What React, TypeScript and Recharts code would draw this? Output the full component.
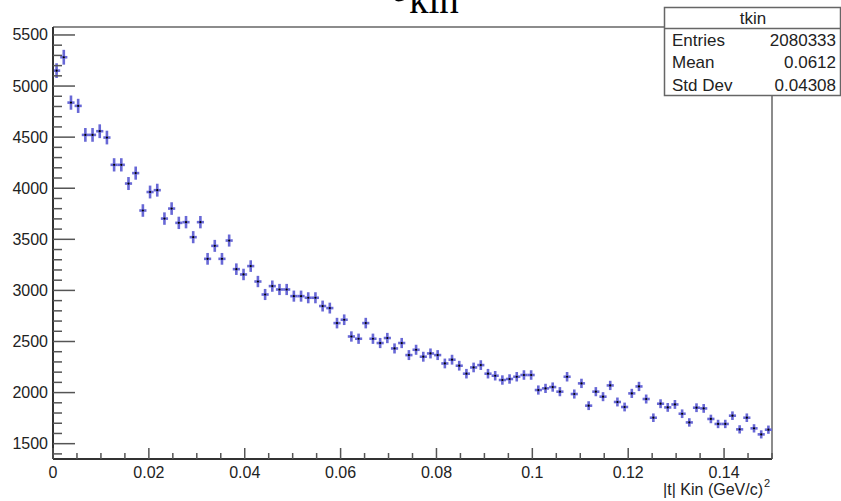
import { ScatterChart, Scatter, XAxis, YAxis, ErrorBar, ReferenceLine } from 'recharts';

// histogram tkin: 100 bins of width 0.0015 from 0 to 0.15
const binLow = 0;
const binWidth = 0.0015;
const counts = [
  5151, 5282, 4838, 4806, 4522, 4522, 4558, 4496, 4229, 4229,
  4046, 4148, 3782, 3963, 3981, 3703, 3801, 3661, 3668, 3521,
  3668, 3309, 3436, 3309, 3488, 3208, 3156, 3238, 3087, 2960,
  3042, 3009, 3009, 2944, 2944, 2928, 2928, 2847, 2827, 2680,
  2713, 2549, 2527, 2680, 2527, 2485, 2534, 2432, 2485, 2367,
  2419, 2351, 2383, 2367, 2285, 2322, 2263, 2185, 2246, 2269,
  2185, 2165, 2123, 2133, 2155, 2172, 2172, 2025, 2041, 2054,
  2009, 2155, 1986, 2090, 1872, 2009, 1960, 2070, 1908, 1859,
  1992, 2060, 1937, 1754, 1891, 1855, 1884, 1793, 1708, 1852,
  1845, 1742, 1693, 1693, 1774, 1640, 1754, 1650, 1591, 1637,
];

const xMajorTicks = [0, 0.02, 0.04, 0.06, 0.08, 0.1, 0.12, 0.14];
const xMajorLabels = ['0', '0.02', '0.04', '0.06', '0.08', '0.1', '0.12', '0.14'];
const yMajorTicks = [1500, 2000, 2500, 3000, 3500, 4000, 4500, 5000, 5500];

const statsTitle = 'tkin';
const statsRows = [
  ['Entries', '2080333'],
  ['Mean', '0.0612'],
  ['Std Dev', '0.04308'],
];

const X_DOMAIN = [0, 0.15];
const Y_DOMAIN = [1350, 5578];

// minor ticks: every 0.005 on x, every 100 on y
const xTicks: number[] = [];
for (let k = 0; k <= 30; k++) xTicks.push(Math.round(k * 5) / 1000);
const yTicks: number[] = [];
for (let v = 1400; v <= 5500; v += 100) yTicks.push(v);

// poisson errors (sqrt N), horizontal bars = half bin width
const data = counts.map((n, i) => ({
  x: binLow + (i + 0.5) * binWidth,
  y: n,
  ey: Math.sqrt(n),
  ex: binWidth / 2,
}));

const FONT = '"Liberation Sans", Arial, Helvetica, sans-serif';
const TICK_COLOR = '#555';
const BAR_COLOR = '#6868d6';

const YTick = (props: any) => {
  const { x, y, payload } = props;
  const v = payload.value;
  const major = yMajorTicks.includes(v);
  const ax = x + 5;
  return (
    <g>
      <line x1={ax} x2={ax + (major ? 22 : 9)} y1={y} y2={y} stroke={TICK_COLOR} strokeWidth={1.5} />
      {major && (
        <text x={x} y={y + 5.5} textAnchor="end" fontSize={16} fill="#222" fontFamily={FONT}>
          {v}
        </text>
      )}
    </g>
  );
};

const XTick = (props: any) => {
  const { x, y, payload } = props;
  const v = payload.value;
  const idx = xMajorTicks.findIndex((m) => Math.abs(m - v) < 1e-9);
  const ay = y - 5;
  return (
    <g>
      <line x1={x} x2={x} y1={ay} y2={ay - (idx >= 0 ? 11 : 6)} stroke={TICK_COLOR} strokeWidth={1.5} />
      {idx >= 0 && (
        <text x={x} y={ay + 18.5} textAnchor="middle" fontSize={16} fill="#222" fontFamily={FONT}>
          {xMajorLabels[idx]}
        </text>
      )}
    </g>
  );
};

const Dot = (p: any) => <circle cx={p.cx} cy={p.cy} r={1.1} fill="#000" />;

export default function App() {
  return (
    <div style={{ position: 'absolute', left: 0, top: 0, width: 841, height: 501, background: '#fff' }}>
      <ScatterChart width={841} height={501} margin={{ top: 27, right: 69, bottom: 0, left: 0 }}>
        <XAxis
          type="number"
          dataKey="x"
          domain={X_DOMAIN}
          ticks={xTicks}
          interval={0}
          allowDataOverflow
          height={42}
          tickSize={0}
          tickMargin={5}
          tickLine={false}
          tick={<XTick />}
          axisLine={{ stroke: '#333', strokeWidth: 2 }}
        />
        <YAxis
          type="number"
          dataKey="y"
          domain={Y_DOMAIN}
          ticks={yTicks}
          interval={0}
          allowDataOverflow
          width={53}
          tickSize={0}
          tickMargin={5}
          tickLine={false}
          tick={<YTick />}
          axisLine={{ stroke: '#333', strokeWidth: 2 }}
        />
        <ReferenceLine y={Y_DOMAIN[1]} stroke="#666" strokeWidth={1.5} />
        <ReferenceLine x={X_DOMAIN[1]} stroke="#666" strokeWidth={1.5} />
        <Scatter data={data} isAnimationActive={false} shape={<Dot />}>
          <ErrorBar dataKey="ey" direction="y" width={0} stroke={BAR_COLOR} strokeWidth={2.6} />
          <ErrorBar dataKey="ex" direction="x" width={0} stroke={BAR_COLOR} strokeWidth={2.6} />
        </Scatter>
      </ScatterChart>
      <svg
        width={841}
        height={501}
        style={{ position: 'absolute', left: 0, top: 0, pointerEvents: 'none' }}
      >
        {/* title t_kin, cut off at the top of the canvas */}
        <text x={390} y={1} fontSize={52} fontFamily='"Liberation Serif", "Times New Roman", serif' fill="#000">
          t
        </text>
        <text x={409} y={13} fontSize={39} fontFamily='"Liberation Serif", "Times New Roman", serif' fill="#000">
          kin
        </text>
        {/* stats box */}
        <rect x={664.5} y={7.5} width={176} height={88} fill="#fff" stroke="#666" strokeWidth={1.5} />
        <line x1={664.5} x2={841} y1={28.5} y2={28.5} stroke="#666" strokeWidth={1.5} />
        <text x={753} y={24} textAnchor="middle" fontSize={17} fontFamily={FONT} fill="#222">
          {statsTitle}
        </text>
        {statsRows.map(([k, v], i) => (
          <g key={k}>
            <text x={672} y={46 + i * 22.3} fontSize={17} fontFamily={FONT} fill="#222">
              {k}
            </text>
            <text x={836} y={46 + i * 22.3} textAnchor="end" fontSize={17} fontFamily={FONT} fill="#222">
              {v}
            </text>
          </g>
        ))}
        {/* x axis title */}
        <text x={763} y={495} textAnchor="end" fontSize={16} fontFamily={FONT} fill="#222">
          |t| Kin (GeV/c)
        </text>
        <text x={764} y={487} fontSize={11} fontFamily={FONT} fill="#222">
          2
        </text>
      </svg>
    </div>
  );
}
